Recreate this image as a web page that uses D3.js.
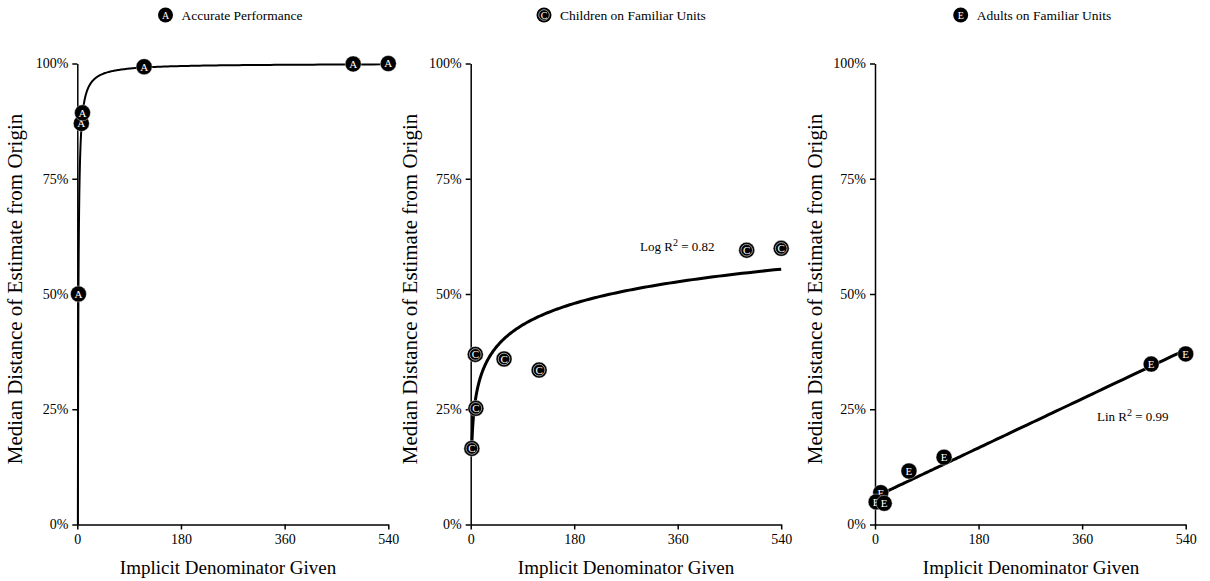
<!DOCTYPE html>
<meta charset="utf-8">
<script src="https://d3js.org/d3.v7.min.js"></script>
<style>
body { margin: 0; background: white; }
text { font-family: 'Liberation Serif', 'Times New Roman', serif; fill: black; }
.tick line, .domain { stroke: black; stroke-width: 1.5px; }
</style>
<div id="chart"></div>
<script>

// values
var xTicks = [0, 180, 360, 540];
var yTicks = [0, 25, 50, 75, 100];

var denomA = [2, 7, 9, 116, 479, 540];
var accurateA = [50, 87, 89.3, 99.3, 99.9, 100];

var denomC = [2, 8, 9, 58, 119, 480, 540];
var childrenC = [16.5, 36.9, 25.2, 35.9, 33.5, 59.5, 59.9];

var denomE = [10, 2, 16, 59, 120, 480, 540];
var adultsE = [6.9, 4.9, 4.6, 11.6, 14.6, 34.8, 37.0];

var titles = ["Accurate Performance", "Children on Familiar Units", "Adults on Familiar Units"];
var letters = ["A", "C", "E"];

var width = 1210, height = 581;
var top0 = 63.5, bottom0 = 524.5;

var svg = d3.select("#chart")
  .append("svg")
    .attr("width", width)
    .attr("height", height);

// least squares fit of y on f(x)
function fit(xs, ys, f) {
  var fx = xs.map(f);
  var mx = d3.mean(fx), my = d3.mean(ys);
  var sxy = d3.sum(fx, function(v, i) { return (v - mx) * (ys[i] - my); });
  var sxx = d3.sum(fx, function(v) { return (v - mx) * (v - mx); });
  var b = sxy / sxx;
  var a = my - b * mx;
  return function(x) { return a + b * f(x); };
}

var panels = [
  { left: 77.3, right: 388.3, ylab: 15, xlab: 228, titleX: 165.5, xs: denomA, ys: accurateA,
    curve: function(x) { return 100 * (1 - 1 / x); }, from: 1, lw: 2 },
  { left: 470.7, right: 781.2, ylab: 410, xlab: 626, titleX: 544, xs: denomC, ys: childrenC,
    curve: fit(denomC, childrenC, Math.log), from: 2, lw: 3,
    note: { x: 640, y: 251, txt: "Log R", rest: " = 0.82" } },
  { left: 875, right: 1185.7, ylab: 815, xlab: 1031, titleX: 960.7, xs: denomE, ys: adultsE,
    curve: fit(denomE, adultsE, function(x) { return x; }), from: 2, lw: 3,
    note: { x: 1097, y: 421, txt: "Lin R", rest: "  = 0.99" } }
];

panels.forEach(function(p, k) {

  var x = d3.scaleLinear().domain([0, 540]).range([p.left, p.right]);
  var y = d3.scaleLinear().domain([0, 100]).range([bottom0, top0]);

  var g = svg.append("g");

  // axes
  g.append("g")
    .attr("transform", "translate(0," + bottom0 + ")")
    .call(d3.axisBottom(x).tickValues(xTicks).tickSize(5).tickSizeOuter(0).tickPadding(5))
    .call(function(a) { a.selectAll("text").style("font-size", "14px"); });

  g.append("g")
    .attr("transform", "translate(" + p.left + ",0)")
    .call(d3.axisLeft(y).tickValues(yTicks).tickFormat(function(d) { return d + "%"; })
      .tickSize(5).tickSizeOuter(0).tickPadding(4))
    .call(function(a) { a.selectAll("text").style("font-size", "14px"); });

  // axis titles
  g.append("text")
    .attr("x", p.xlab)
    .attr("y", 574)
    .attr("text-anchor", "middle")
    .style("font-size", "19px")
    .text("Implicit Denominator Given");

  g.append("text")
    .attr("transform", "translate(" + p.ylab + ",289) rotate(-90)")
    .attr("dy", "0.35em")
    .attr("text-anchor", "middle")
    .style("font-size", "21px")
    .text("Median Distance of Estimate from Origin");

  // legend title
  var lg = g.append("g").attr("transform", "translate(" + p.titleX + ",15)");
  lg.append("circle").attr("r", 7.5).attr("fill", "black");
  if (letters[k] == "C") {
    lg.append("circle").attr("r", 5.3).attr("fill", "none").attr("stroke", "white").attr("stroke-width", 0.6);
  }
  lg.append("text")
    .attr("text-anchor", "middle")
    .attr("dy", "0.35em")
    .style("font-size", "10px")
    .style("fill", "white")
    .text(letters[k]);
  g.append("text")
    .attr("x", p.titleX + 16)
    .attr("y", 19.5)
    .style("font-size", "13.5px")
    .text(titles[k]);

  // fitted curve
  var samples = d3.range(0, 1.0001, 0.004).map(function(t) {
    return p.from * Math.pow(540 / p.from, t);
  });
  g.append("path")
    .datum(samples)
    .attr("fill", "none")
    .attr("stroke", "black")
    .attr("stroke-width", p.lw)
    .attr("d", d3.line()
      .x(function(d) { return x(d); })
      .y(function(d) { return y(p.curve(d)); }));

  // dots
  var dots = g.append("g")
    .selectAll("g")
    .data(p.xs)
    .enter()
    .append("g")
      .attr("transform", function(d, i) { return "translate(" + x(d) + "," + y(p.ys[i]) + ")"; });
  dots.append("circle")
    .attr("r", 8)
    .attr("fill", "black")
    .attr("stroke", "white")
    .attr("stroke-width", 0.4);
  if (letters[k] == "C") {
    dots.append("circle").attr("r", 5.8).attr("fill", "none").attr("stroke", "white").attr("stroke-width", 0.6);
  }
  dots.append("text")
    .attr("text-anchor", "middle")
    .attr("dy", "0.36em")
    .style("font-size", "11px")
    .style("fill", "white")
    .text(letters[k]);

  // R squared note
  if (p.note) {
    var t = g.append("text")
      .attr("x", p.note.x)
      .attr("y", p.note.y)
      .style("font-size", "13px")
      .text(p.note.txt);
    t.append("tspan").attr("dy", -5).style("font-size", "10px").text("2");
    t.append("tspan").attr("dy", 5).text(p.note.rest);
  }
});
</script>
